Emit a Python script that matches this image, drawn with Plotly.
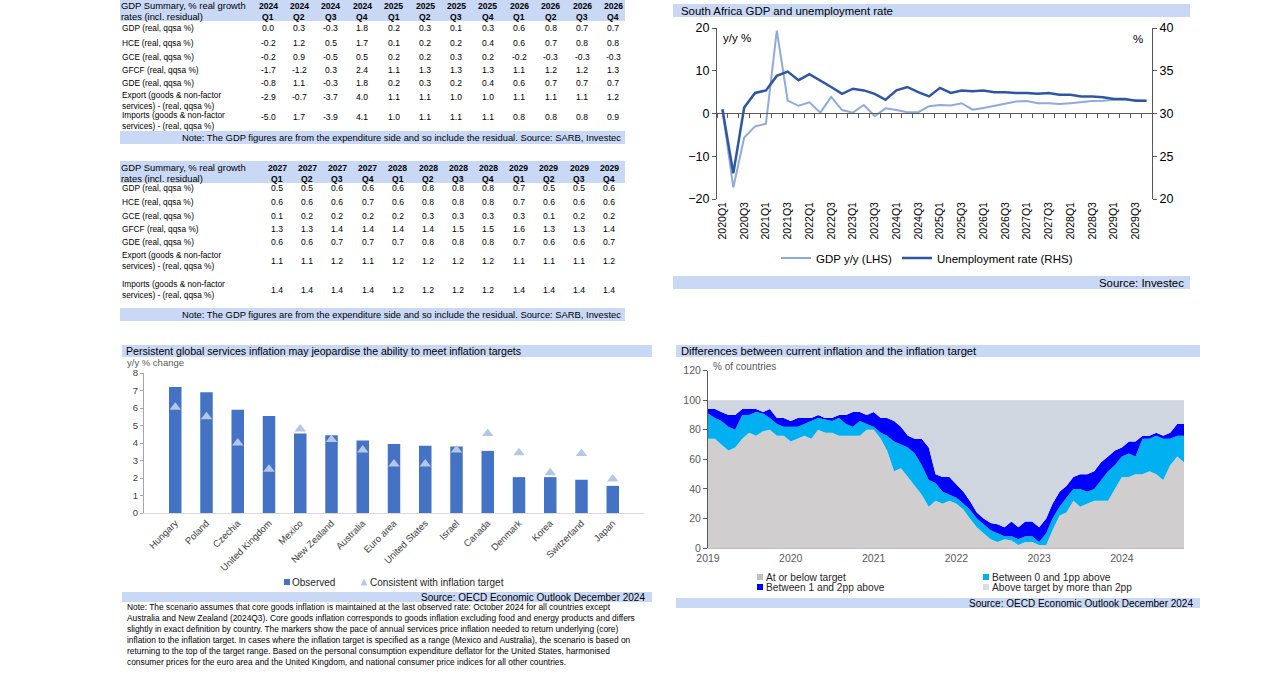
import plotly.graph_objects as go
import pandas as pd

W, H = 1288, 687
FONT = "Liberation Sans, Arial, sans-serif"
BAND = "#c9d8f5"


def fx(p):
    return p / W


def fy(p):
    return 1 - p / H


# ---------------- Table data ----------------
row_labels = ["GDP (real, qqsa %)", "HCE (real, qqsa %)", "GCE (real, qqsa %)",
              "GFCF (real, qqsa %)", "GDE (real, qqsa %)",
              "Export (goods & non-factor<br>services) - (real, qqsa %)",
              "Imports (goods & non-factor<br>services) - (real, qqsa %)"]
table_title = ["GDP Summary, % real growth", "rates (incl. residual)"]
table_note = "Note: The GDP figures are from the expenditure side and so include the residual. Source: SARB, Investec"

t1_years = ["2024", "2024", "2024", "2024", "2025", "2025", "2025", "2025", "2026", "2026", "2026", "2026"]
t1_quarters = ["Q1", "Q2", "Q3", "Q4", "Q1", "Q2", "Q3", "Q4", "Q1", "Q2", "Q3", "Q4"]
t1_gdp = [0.0, 0.3, -0.3, 1.8, 0.2, 0.3, 0.1, 0.3, 0.6, 0.8, 0.7, 0.7]
t1_hce = [-0.2, 1.2, 0.5, 1.7, 0.1, 0.2, 0.2, 0.4, 0.6, 0.7, 0.8, 0.8]
t1_gce = [-0.2, 0.9, -0.5, 0.5, 0.2, 0.2, 0.3, 0.2, -0.2, -0.3, -0.3, -0.3]
t1_gfcf = [-1.7, -1.2, 0.3, 2.4, 1.1, 1.3, 1.3, 1.3, 1.1, 1.2, 1.2, 1.3]
t1_gde = [-0.8, 1.1, -0.3, 1.8, 0.2, 0.3, 0.2, 0.4, 0.6, 0.7, 0.7, 0.7]
t1_export = [-2.9, -0.7, -3.7, 4.0, 1.1, 1.1, 1.0, 1.0, 1.1, 1.1, 1.1, 1.2]
t1_imports = [-5.0, 1.7, -3.9, 4.1, 1.0, 1.1, 1.1, 1.1, 0.8, 0.8, 0.8, 0.9]

t2_years = ["2027", "2027", "2027", "2027", "2028", "2028", "2028", "2028", "2029", "2029", "2029", "2029"]
t2_quarters = ["Q1", "Q2", "Q3", "Q4", "Q1", "Q2", "Q3", "Q4", "Q1", "Q2", "Q3", "Q4"]
t2_gdp = [0.5, 0.5, 0.6, 0.6, 0.6, 0.8, 0.8, 0.8, 0.7, 0.5, 0.5, 0.6]
t2_hce = [0.6, 0.6, 0.6, 0.7, 0.6, 0.8, 0.8, 0.8, 0.7, 0.6, 0.6, 0.6]
t2_gce = [0.1, 0.2, 0.2, 0.2, 0.2, 0.3, 0.3, 0.3, 0.3, 0.1, 0.2, 0.2]
t2_gfcf = [1.3, 1.3, 1.4, 1.4, 1.4, 1.4, 1.5, 1.5, 1.6, 1.3, 1.3, 1.4]
t2_gde = [0.6, 0.6, 0.7, 0.7, 0.7, 0.8, 0.8, 0.8, 0.7, 0.6, 0.6, 0.7]
t2_export = [1.1, 1.1, 1.2, 1.1, 1.2, 1.2, 1.2, 1.2, 1.1, 1.1, 1.1, 1.2]
t2_imports = [1.4, 1.4, 1.4, 1.4, 1.2, 1.2, 1.2, 1.2, 1.4, 1.4, 1.4, 1.4]

# ---------------- South Africa GDP / unemployment ----------------
sa_quarters = [f"{y}Q{q}" for y in range(2020, 2030) for q in range(1, 5)]
gdp_yy = [0.8, -17.3, -5.6, -3.0, -2.4, 19.4, 3.0, 1.8, 2.6, 0.2,
          3.9, 0.8, 0.2, 2.0, -0.6, 1.2, 0.8, 0.3, 0.3, 1.7,
          2.0, 1.9, 2.4, 0.9, 1.3, 1.8, 2.4, 2.8, 2.9, 2.4,
          2.4, 2.2, 2.4, 2.7, 2.9, 3.0, 3.2, 3.2, 3.1, 3.0]
unemployment = [30.5, 23.0, 30.7, 32.4, 32.7, 34.4, 34.9, 33.9, 34.6, 33.9,
                33.1, 32.3, 32.9, 32.7, 32.3, 31.6, 32.7, 33.1, 32.5, 32.0,
                33.0, 32.4, 32.7, 32.6, 32.7, 32.5, 32.5, 32.4, 32.4, 32.3,
                32.4, 32.2, 32.2, 32.0, 32.0, 31.9, 31.7, 31.7, 31.5, 31.5]

# ---------------- Services inflation bars ----------------
countries = ["Hungary", "Poland", "Czechia", "United Kingdom", "Mexico", "New Zealand",
             "Australia", "Euro area", "United States", "Israel", "Canada", "Denmark",
             "Korea", "Switzerland", "Japan"]
observed = [7.2, 6.9, 5.9, 5.55, 4.55, 4.45, 4.15, 3.95, 3.85, 3.8, 3.55, 2.05, 2.05, 1.9, 1.55]
consistent = [6.05, 5.5, 4.0, 2.5, 4.8, 4.2, 3.6, 2.8, 2.8, 3.6, 4.55, 3.45, 2.3, 3.4, 1.95]
bar_note = [
    "Note: The scenario assumes that core goods inflation is maintained at the last observed rate: October 2024 for all countries except",
    "Australia and New Zealand (2024Q3). Core goods inflation corresponds to goods inflation excluding food and energy products and differs",
    "slightly in exact definition by country. The markers show the pace of annual services price inflation needed to return underlying (core)",
    "inflation to the inflation target. In cases where the inflation target is specified as a range (Mexico and Australia), the scenario is based on",
    "returning to the top of the target range. Based on the personal consumption expenditure deflator for the United States, harmonised",
    "consumer prices for the euro area and the United Kingdom, and national consumer price indices for all other countries.",
]

# ---------------- Inflation vs target (share of countries) ----------------
months = pd.date_range("2019-01-01", periods=70, freq="MS")
at_or_below = [74, 74, 70, 66, 68, 74, 78, 76, 79, 80, 76, 76,
               72, 74, 76, 74, 80, 78, 78, 76, 76, 76, 76, 80,
               80, 74, 66, 52, 54, 48, 42, 36, 28, 32, 30, 32,
               30, 26, 20, 14, 10, 6, 4, 6, 5, 2, 4, 4,
               2, 2, 12, 22, 24, 32, 28, 30, 32, 32, 32, 40,
               48, 48, 50, 50, 52, 50, 46, 56, 62, 58]
between_0_1 = [17, 14, 16, 16, 12, 16, 12, 16, 12, 8, 8, 6,
               10, 8, 8, 12, 8, 9, 8, 12, 8, 6, 10, 4,
               2, 4, 10, 20, 16, 20, 22, 20, 18, 12, 8, 4,
               4, 4, 6, 6, 6, 6, 6, 2, 3, 4, 4, 4,
               2, 8, 8, 6, 10, 8, 12, 8, 8, 14, 20, 16,
               14, 16, 12, 24, 22, 26, 28, 18, 14, 18]
between_1_2 = [3, 6, 6, 8, 10, 4, 4, 2, 1, 6, 4, 6,
               4, 6, 4, 2, 2, 1, 2, 2, 6, 10, 6, 6,
               10, 10, 12, 14, 12, 8, 10, 18, 22, 6, 10, 12,
               9, 8, 6, 4, 4, 5, 6, 6, 10, 8, 10, 10,
               10, 10, 10, 10, 8, 8, 10, 12, 12, 12, 10, 10,
               6, 8, 10, 2, 2, 2, 2, 4, 8, 8]
above_2 = [6, 6, 8, 10, 10, 6, 6, 6, 8, 6, 12, 12,
           14, 12, 12, 12, 10, 12, 12, 10, 10, 8, 8, 10,
           8, 12, 12, 14, 18, 24, 26, 26, 32, 50, 52, 52,
           57, 62, 68, 76, 80, 83, 84, 86, 82, 86, 82, 82,
           86, 80, 70, 62, 58, 52, 50, 50, 48, 42, 38, 34,
           32, 28, 28, 24, 24, 22, 24, 22, 16, 16]
area_names = ["At or below target", "Between 0 and 1pp above",
              "Between 1 and 2pp above", "Above target by more than 2pp"]
area_colors = ["#d0cece", "#00b0f0", "#0000ff", "#cfd6e0"]

# ======================================================================
fig = go.Figure()
annotations = []
shapes = []


def txt(x, y, s, size, xanchor="left", color="#000000", bold=False):
    if bold:
        s = f"<b>{s}</b>"
    annotations.append(dict(x=fx(x), y=fy(y), xref="paper", yref="paper", text=s,
                            showarrow=False, xanchor=xanchor, yanchor="middle", align="left",
                            font=dict(size=size, color=color, family=FONT)))


def rect(x0, y0, x1, y1, color):
    shapes.append(dict(type="rect", xref="paper", yref="paper", x0=fx(x0), x1=fx(x1),
                       y0=fy(y1), y1=fy(y0), fillcolor=color, line=dict(width=0), layer="below"))


# ---------------- tables ----------------
def draw_table(top, years, quarters, rows, col0, col_step, label_y, value_y, note_y0):
    rect(120, top, 625, top + 22, BAND)
    txt(119, top + 6.5, table_title[0], 9.4)
    txt(119, top + 17.5, table_title[1], 9.4)
    for j in range(len(years)):
        cx = col0 + j * col_step
        txt(cx, top + 6.5, years[j], 8.6, "center", bold=True)
        txt(cx, top + 17.5, quarters[j], 8.6, "center", bold=True)
    for i, (lab, vals) in enumerate(zip(row_labels, rows)):
        txt(120, label_y[i], lab, 8.3)
        for j, v in enumerate(vals):
            txt(col0 + j * col_step, value_y[i], f"{v:.1f}", 8.6, "center")
    rect(120, note_y0, 625, note_y0 + 13, BAND)
    txt(623, note_y0 + 6.5, table_note, 9.4, "right")


draw_table(-1, t1_years, t1_quarters,
           [t1_gdp, t1_hce, t1_gce, t1_gfcf, t1_gde, t1_export, t1_imports],
           268, 31.4, [28, 43, 57, 70, 83, 101, 120.5], [28, 43, 57, 70, 83, 97, 117], 131)
draw_table(161, t2_years, t2_quarters,
           [t2_gdp, t2_hce, t2_gce, t2_gfcf, t2_gde, t2_export, t2_imports],
           277, 30.2, [188, 202, 216, 229, 242, 260.5, 289.5], [188, 202, 216, 229, 242, 261, 290], 308)

# ---------------- SA chart ----------------
rect(673, 4, 1190, 17, BAND)
txt(679, 11, "South Africa GDP and unemployment rate", 11.4)
rect(673, 276, 1190, 289, BAND)
txt(1186, 283, "Source: Investec", 11.4, "right")
txt(721, 38, "y/y %", 11.5)
txt(1131, 39, "%", 11.5)

fig.add_trace(go.Scatter(x=sa_quarters, y=gdp_yy, name="GDP y/y (LHS)", mode="lines",
                         line=dict(color="#8faadc", width=2), xaxis="x", yaxis="y",
                         legend="legend"))
fig.add_trace(go.Scatter(x=sa_quarters, y=unemployment, name="Unemployment rate (RHS)", mode="lines",
                         line=dict(color="#2f55a5", width=2.5), xaxis="x", yaxis="y2",
                         legend="legend"))
fig.add_trace(go.Scatter(x=sa_quarters, y=[None] * len(sa_quarters), xaxis="x3", yaxis="y",
                         showlegend=False, hoverinfo="skip", mode="lines"))

# ---------------- bar chart ----------------
rect(122, 345, 652, 357, BAND)
txt(124, 351, "Persistent global services inflation may jeopardise the ability to meet inflation targets", 10.6)
txt(125, 362, "y/y % change", 9.5, color="#595959")
rect(122, 592, 652, 602, BAND)
txt(647, 597, "Source: OECD Economic Outlook December 2024", 10, "right")
for k, line in enumerate(bar_note):
    txt(125, 607 + 10.9 * k, line, 8.4)

fig.add_trace(go.Bar(x=countries, y=observed, name="Observed", marker_color="#4472c4",
                     width=0.4, xaxis="x2", yaxis="y3", showlegend=False))
fig.add_trace(go.Scatter(x=countries, y=consistent, name="Consistent with inflation target",
                         mode="markers", marker=dict(symbol="triangle-up", size=10, color="#b4c7e7"),
                         xaxis="x2", yaxis="y3", showlegend=False))
# manual legend
rect(284, 579, 290, 585, "#4472c4")
txt(290, 582, "Observed", 10, color="#262626")
shapes.append(dict(type="path", xref="paper", yref="paper",
                   path=f"M {fx(360.5)} {fy(585.5)} L {fx(367.5)} {fy(585.5)} L {fx(364)} {fy(578.5)} Z",
                   fillcolor="#b4c7e7", line=dict(width=0)))
txt(368, 582, "Consistent with inflation target", 10, color="#262626")

# ---------------- area chart ----------------
rect(676, 345, 1200, 357, BAND)
txt(679, 351, "Differences between current inflation and the inflation target", 11.2)
txt(711, 366, "% of countries", 10, color="#595959")
rect(676, 598, 1200, 608, BAND)
txt(1195, 603, "Source: OECD Economic Outlook December 2024", 10, "right")

for name, vals, col in zip(area_names, [at_or_below, between_0_1, between_1_2, above_2], area_colors):
    fig.add_trace(go.Scatter(x=months, y=vals, name=name, mode="lines", stackgroup="inf",
                             line=dict(width=0, color=col), fillcolor=col,
                             xaxis="x4", yaxis="y4", showlegend=False))
legend_pos = [(757, 577), (983, 577), (757, 587), (983, 587)]
legend_sq = ["#c0c0c0", "#00b0f0", "#0000ff", "#dadde2"]
for (lx, ly), name, col in zip(legend_pos, area_names, legend_sq):
    rect(lx, ly - 3, lx + 6, ly + 3, col)
    txt(lx + 7, ly, name, 10.2, color="#262626")

axis_col = "#595959"
fig.update_layout(
    template="none",
    width=W, height=H, autosize=False,
    margin=dict(l=0, r=0, t=0, b=0, pad=0, autoexpand=False),
    paper_bgcolor="white", plot_bgcolor="rgba(0,0,0,0)",
    font=dict(family=FONT, size=10, color="#000000"),
    showlegend=True,
    legend=dict(orientation="h", x=fx(776), y=fy(258), xanchor="left", yanchor="middle",
                font=dict(size=11.5, color="#000000"), bgcolor="rgba(0,0,0,0)",
                itemwidth=30, tracegroupgap=0, traceorder="normal", borderwidth=0),
    xaxis=dict(domain=[fx(717), fx(1152)], anchor="y", type="category", range=[-0.5, 39.5],
               tickmode="array", tickvals=sa_quarters[::2], tickangle=-90,
               tickfont=dict(size=10.5, color="#000000"), showline=False, ticks="",
               showgrid=False, zeroline=False, automargin=False),
    xaxis3=dict(overlaying="x", anchor="free", position=fy(113), type="category",
                range=[-0.5, 39.5], showticklabels=False, ticks="outside", ticklen=4,
                tickmode="linear", tick0=0, dtick=1, tickson="boundaries",
                tickcolor=axis_col, showline=True, linecolor=axis_col, linewidth=1,
                showgrid=False, zeroline=False, automargin=False),
    yaxis=dict(domain=[fy(199), fy(28)], anchor="x", range=[-20, 20], dtick=10,
               showline=True, linecolor=axis_col, ticks="outside", ticklen=4, tickcolor=axis_col,
               tickfont=dict(size=12.5, color="#000000"), showgrid=False, zeroline=False,
               automargin=False),
    yaxis2=dict(overlaying="y", side="right", anchor="x", range=[20, 40], dtick=5,
                showline=True, linecolor=axis_col, ticks="outside", ticklen=4, tickcolor=axis_col,
                tickfont=dict(size=12.5, color="#000000"), showgrid=False, zeroline=False,
                automargin=False),
    xaxis2=dict(domain=[fx(144), fx(644)], anchor="y3", type="category",
                tickangle=-45, tickfont=dict(size=9.5, color="#404040"),
                showline=True, linecolor="#d9d9d9", ticks="", showgrid=False, zeroline=False,
                automargin=False),
    yaxis3=dict(domain=[fy(513), fy(373)], anchor="x2", range=[0, 8], dtick=1,
                showline=True, linecolor="#a6a6a6", ticks="outside", ticklen=3, tickcolor="#a6a6a6",
                tickfont=dict(size=9.5, color="#404040"), showgrid=False, zeroline=False,
                automargin=False),
    xaxis4=dict(domain=[fx(708), fx(1184)], anchor="y4", type="date",
                range=["2019-01-01", "2024-10-01"], dtick="M12", tick0="2019-01-01",
                tickformat="%Y", tickfont=dict(size=10.5, color=axis_col),
                showline=True, linecolor="#bfbfbf", ticks="", showgrid=False, zeroline=False,
                automargin=False),
    yaxis4=dict(domain=[fy(548), fy(370.7)], anchor="x4", range=[0, 120], dtick=20,
                showline=True, linecolor=axis_col, ticks="outside", ticklen=4, tickcolor=axis_col,
                tickfont=dict(size=10.5, color=axis_col), showgrid=False, zeroline=False,
                automargin=False),
    annotations=annotations,
    shapes=shapes,
)

fig.write_html("out.html", config={"displayModeBar": False},
               post_script="document.body.style.margin='0';")
